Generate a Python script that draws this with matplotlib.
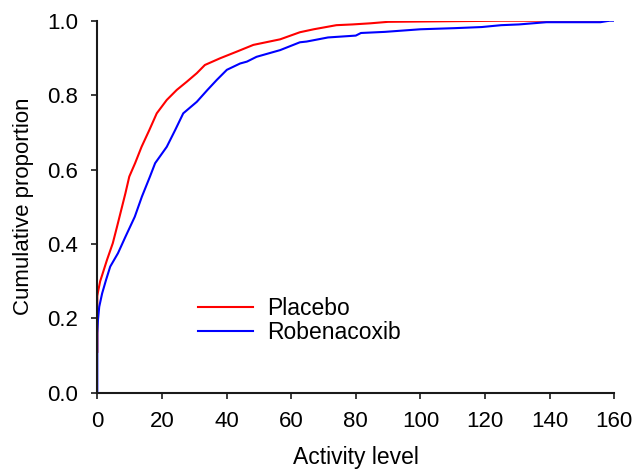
import matplotlib
matplotlib.use('Agg')
import matplotlib.pyplot as plt

plt.rcParams['font.family'] = ['Liberation Sans', 'DejaVu Sans']

# Cumulative proportion vs activity level
placebo_x = [0, 0, 0.2, 0.9, 1.5, 3.0, 4.8, 6.1, 7.4, 8.7, 9.9, 11.7,
             13.7, 16.1, 18.4, 21.5, 24.6, 27.7, 30.8, 33.3, 38.0, 43.2, 48.3,
             56.6, 62.7, 67.0, 74.0, 79.0, 84.5, 90.0, 125.0, 158.0]
placebo_y = [0.11, 0.26, 0.27, 0.30, 0.316, 0.357, 0.402, 0.446, 0.491, 0.536, 0.581,
             0.617, 0.661, 0.706, 0.751, 0.787, 0.814, 0.836, 0.859,
             0.881, 0.899, 0.917, 0.935, 0.95, 0.969, 0.977, 0.988, 0.99, 0.993,
             0.997, 1.0, 1.0]

robenacoxib_x = [0, 0, 0.2, 0.6, 1.5, 2.7, 4.0, 6.4, 8.7, 11.6, 13.8, 16.3,
                 17.9, 21.5, 24.1, 26.6, 30.8, 34.1, 37.0, 40.1, 44.2, 46.3,
                 49.3, 56.6, 62.7, 64.8, 71.4, 80.0, 81.6, 89.0, 100.0, 110.6,
                 119.0, 125.0, 130.5, 139.0, 155.7, 158.5, 160.0]
robenacoxib_y = [0.0, 0.16, 0.195, 0.231, 0.267, 0.303, 0.339, 0.375, 0.419, 0.473,
                 0.527, 0.581, 0.617, 0.661, 0.706, 0.751, 0.782,
                 0.814, 0.841, 0.868, 0.885, 0.89, 0.903, 0.921, 0.942, 0.944,
                 0.955, 0.96, 0.967, 0.97, 0.977, 0.98, 0.983, 0.988, 0.99, 0.996,
                 0.996, 1.0, 1.0]

fig = plt.figure(figsize=(6.33, 4.74), dpi=100)
ax = fig.add_axes([0.1537, 0.1715, 0.8167, 0.7848])

ax.plot(placebo_x, placebo_y, color='#ff0000', lw=1.5, label='Placebo')
ax.plot(robenacoxib_x, robenacoxib_y, color='#0000ff', lw=1.5, label='Robenacoxib')

ax.set_xlim(0, 160)
ax.set_ylim(0, 1.0)
ax.set_xticks(range(0, 161, 20))
ax.set_yticks([0.0, 0.2, 0.4, 0.6, 0.8, 1.0])
ax.set_yticklabels(['0.0', '0.2', '0.4', '0.6', '0.8', '1.0'])

for s in ['top', 'right']:
    ax.spines[s].set_visible(False)
for s in ['left', 'bottom']:
    ax.spines[s].set_linewidth(1.5)
    ax.spines[s].set_color('#1a1a1a')
ax.tick_params(direction='out', length=4, width=1.2, labelsize=16, color='#1a1a1a')
ax.tick_params(axis='x', pad=9)
ax.tick_params(axis='y', pad=10)

ax.set_xlabel('Activity level', fontsize=16.5, labelpad=10)
ax.set_ylabel('Cumulative proportion', fontsize=16, labelpad=9)

ax.legend(loc='center left', bbox_to_anchor=(0.195, 0.195), frameon=False,
          fontsize=16.5, handlelength=2.4, handletextpad=0.6, borderpad=0,
          borderaxespad=0, labelspacing=0.05)

fig.savefig('out.png', dpi=100)
